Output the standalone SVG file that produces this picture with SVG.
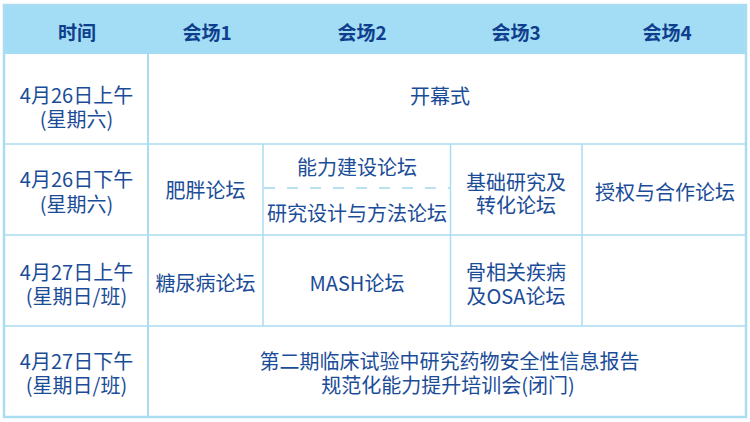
<svg xmlns="http://www.w3.org/2000/svg" width="750" height="422" viewBox="0 0 750 422">
<style>
  .bg { fill: #ffffff; }
  .hdr { fill: #a3ddf5; }
  .line { stroke: #aadcf2; stroke-width: 1.5; fill: none; }
  .outer { stroke: #aadcf2; stroke-width: 2.5; fill: none; }
  .dash { stroke: #a3d8ee; stroke-width: 1.5; stroke-dasharray: 11 12; fill: none; }
  text { font-family: "Noto Sans CJK SC", "Noto Sans", sans-serif; text-anchor: middle; dominant-baseline: central; }
  .h { font-size: 19px; font-weight: bold; fill: #0f3f8c; }
  .t { font-size: 20px; fill: #1a4c98; }
</style>
<rect class="bg" x="0" y="0" width="750" height="422"/>
<rect class="hdr" x="3" y="5" width="744" height="49"/>
<g id="connectors">
  <rect class="outer" x="4" y="5" width="742" height="412"/>
  <line class="line" x1="148" y1="54" x2="148" y2="417" style="stroke-width:2"/>
  <line class="line" x1="4" y1="144" x2="746" y2="144"/>
  <line class="line" x1="4" y1="235" x2="746" y2="235"/>
  <line class="line" x1="4" y1="326" x2="746" y2="326"/>
  <line class="line" x1="263" y1="144" x2="263" y2="326"/>
  <line class="line" x1="450.5" y1="144" x2="450.5" y2="326"/>
  <line class="line" x1="582" y1="144" x2="582" y2="326"/>
  <line class="dash" x1="264" y1="188" x2="450" y2="188"/>
</g>
<g id="header">
  <text class="h" x="77" y="31">时间</text>
  <text class="h" x="207" y="31">会场1</text>
  <text class="h" x="362" y="31">会场2</text>
  <text class="h" x="516" y="31">会场3</text>
  <text class="h" x="667" y="31">会场4</text>
</g>
<g id="row1">
  <text class="t" x="76.5" y="94">4月26日上午</text>
  <text class="t" x="76.5" y="118">(星期六)</text>
  <text class="t" x="440" y="95.5">开幕式</text>
</g>
<g id="row2">
  <text class="t" x="76.5" y="178">4月26日下午</text>
  <text class="t" x="76.5" y="203">(星期六)</text>
  <text class="t" x="205.5" y="189">肥胖论坛</text>
  <text class="t" x="357" y="166">能力建设论坛</text>
  <text class="t" x="357" y="212">研究设计与方法论坛</text>
  <text class="t" x="516" y="181">基础研究及</text>
  <text class="t" x="516" y="204">转化论坛</text>
  <text class="t" x="665" y="191">授权与合作论坛</text>
</g>
<g id="row3">
  <text class="t" x="76.5" y="271">4月27日上午</text>
  <text class="t" x="76.5" y="295">(星期日/班)</text>
  <text class="t" x="205.5" y="282">糖尿病论坛</text>
  <text class="t" x="357" y="282">MASH论坛</text>
  <text class="t" x="516" y="271.5">骨相关疾病</text>
  <text class="t" x="516" y="295">及OSA论坛</text>
</g>
<g id="row4">
  <text class="t" x="76.5" y="360">4月27日下午</text>
  <text class="t" x="76.5" y="384">(星期日/班)</text>
  <text class="t" x="449.5" y="360">第二期临床试验中研究药物安全性信息报告</text>
  <text class="t" x="448" y="384">规范化能力提升培训会(闭门)</text>
</g>
</svg>
